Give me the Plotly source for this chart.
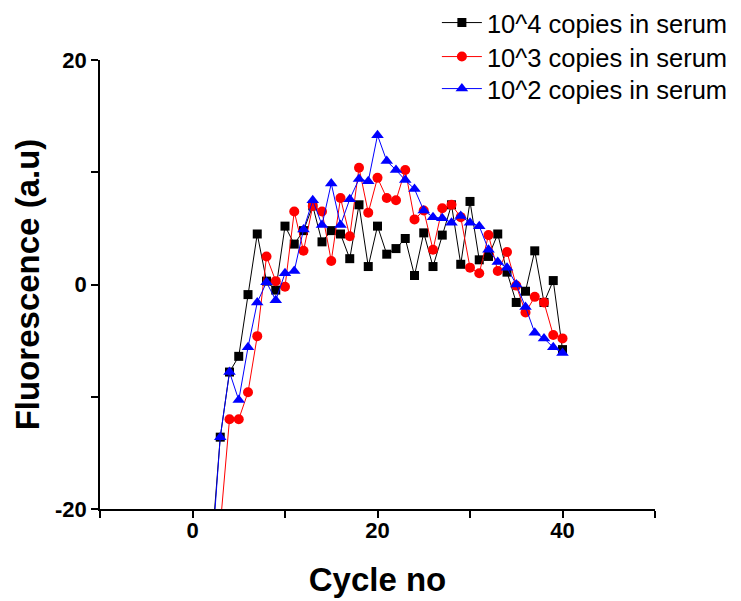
import plotly.graph_objects as go

cycles = list(range(1, 41))

copies_1e4 = [-30.0, -24.2, -13.6, -7.8, -6.4, -0.9, 4.5, 0.3, -0.5, 5.2,
              3.6, 4.8, 7.0, 3.8, 4.8, 4.5, 2.3, 7.1, 1.6, 5.2,
              2.7, 3.2, 4.1, 0.8, 4.6, 1.6, 4.4, 7.1, 1.8, 7.4,
              2.2, 2.5, 4.5, 1.1, -1.6, -0.6, 3.0, -1.6, 0.35, -5.8]

copies_1e3 = [-35.0, -30.0, -21.5, -12.0, -12.0, -9.6, -4.6, 2.5, 0.3, -0.2,
              6.5, 3.0, 7.0, 6.5, 2.1, 7.7, 4.3, 10.4, 6.4, 9.5,
              7.7, 7.5, 10.2, 5.8, 6.6, 3.1, 6.8, 7.1, 6.0, 1.5,
              1.0, 4.4, 1.2, 2.9, -0.1, -2.5, -1.1, -1.6, -4.5, -4.8]

copies_1e2 = [-31.0, -25.0, -13.6, -7.8, -10.3, -5.6, -1.6, 0.2, -1.4, 1.0,
              1.2, 4.9, 7.5, 5.3, 9.0, 5.3, 7.6, 9.4, 9.2, 13.3,
              11.0, 10.2, 9.3, 8.5, 6.6, 6.0, 5.9, 5.5, 6.1, 5.5,
              5.2, 3.1, 2.0, 1.5, 0.0, -2.0, -4.3, -4.8, -5.6, -6.1]

series_names = ["10^4 copies in serum", "10^3 copies in serum", "10^2 copies in serum"]
series_values = [copies_1e4, copies_1e3, copies_1e2]
colors = ["#000000", "#FF0000", "#0000FF"]
symbols = ["square", "circle", "triangle-up"]
sizes = [9, 10, 11]

x_tickvals = [-10, 0, 10, 20, 30, 40, 50]
x_ticktext = ["", "0", "", "20", "", "40", ""]
y_tickvals = [-20, -10, 0, 10, 20]
y_ticktext = ["-20", "", "0", "", "20"]

FONT = "Arial, Liberation Sans, sans-serif"

legend_ids = ["legend", "legend2", "legend3"]
legend_rows_y = [1.0824, 1.0067, 0.9354]  # one legend row per series (paper coords)

fig = go.Figure()
for i, (name, vals) in enumerate(zip(series_names, series_values)):
    fig.add_trace(go.Scatter(
        x=cycles, y=vals, name=name, mode="lines+markers",
        line=dict(color=colors[i], width=1),
        marker=dict(color=colors[i], symbol=symbols[i], size=sizes[i]),
        legend=legend_ids[i],
    ))

legend_common = dict(
    x=0.607, xanchor="left", yanchor="middle",
    font=dict(size=25.5, family=FONT, color="black"),
    bgcolor="rgba(0,0,0,0)", itemwidth=40, borderwidth=0,
)

# page body has an 8px margin, so the figure is 733x593 drawn at (8, 8)
fig.update_layout(
    width=733, height=593,
    margin=dict(l=92, r=86, t=52, b=92, autoexpand=False),
    paper_bgcolor="white", plot_bgcolor="white",
    font=dict(family=FONT, color="black"),
    showlegend=True,
    legend=dict(y=legend_rows_y[0], **legend_common),
    legend2=dict(y=legend_rows_y[1], **legend_common),
    legend3=dict(y=legend_rows_y[2], **legend_common),
    xaxis=dict(
        range=[-10, 50], tickmode="array", tickvals=x_tickvals, ticktext=x_ticktext,
        showgrid=False, zeroline=False, showline=True, linecolor="black", linewidth=1.5,
        ticks="outside", ticklen=7, tickwidth=1.5, tickcolor="black",
        ticklabelstandoff=-6,
        tickfont=dict(size=22, family=FONT, color="black", weight="bold"),
        title=dict(text="Cycle no", font=dict(size=33, family=FONT, color="black", weight="bold"), standoff=26),
    ),
    yaxis=dict(
        range=[-20, 20], tickmode="array", tickvals=y_tickvals, ticktext=y_ticktext,
        showgrid=False, zeroline=False, showline=True, linecolor="black", linewidth=1.5,
        ticks="outside", ticklen=7, tickwidth=1.5, tickcolor="black",
        tickfont=dict(size=22, family=FONT, color="black", weight="bold"),
        title=dict(text="Fluorescence (a.u)", font=dict(size=33, family=FONT, color="black", weight="bold"), standoff=6),
    ),
)

fig.write_html("out.html")
